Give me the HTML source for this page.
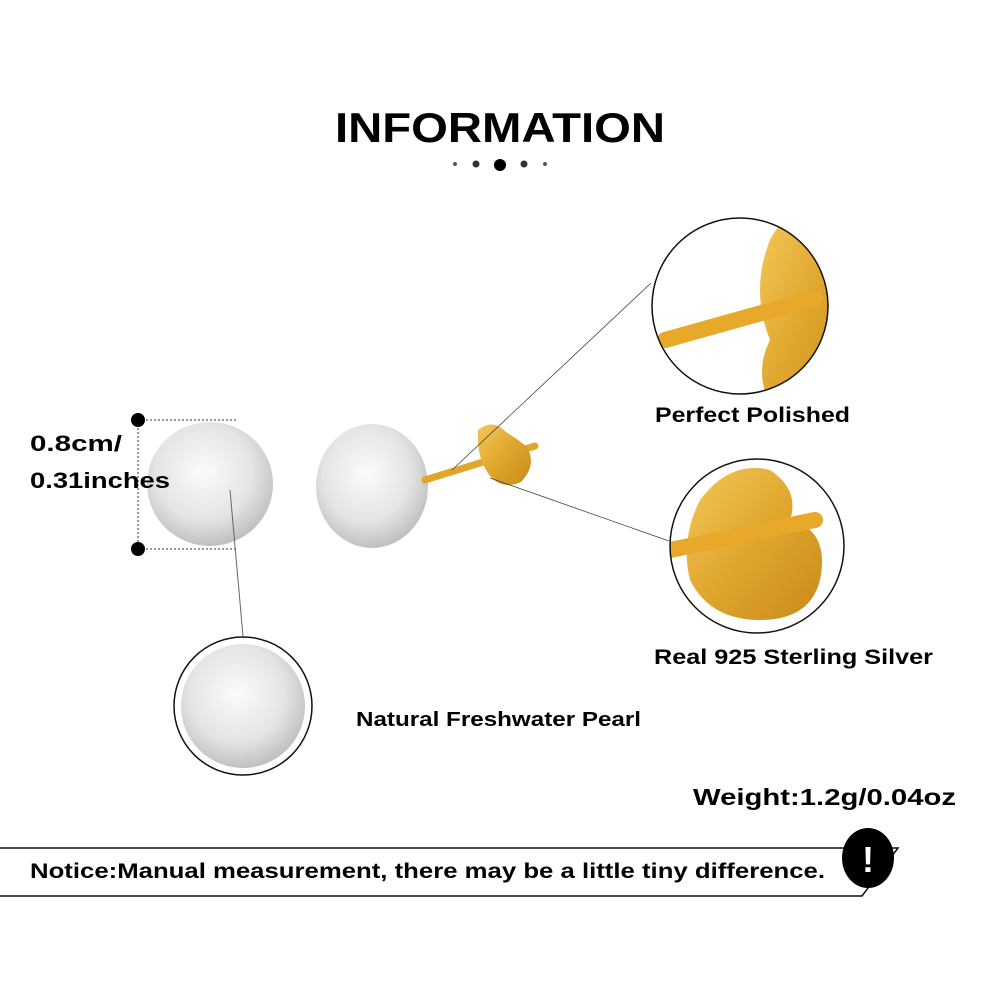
<!DOCTYPE html>
<html><head><style>body{margin:0;background:#fff}svg{display:block}</style></head><body>
<svg width="1000" height="1000" viewBox="0 0 1000 1000" xmlns="http://www.w3.org/2000/svg" font-family="Liberation Sans, sans-serif">
<defs>
<radialGradient id="pg" cx="0.45" cy="0.4" r="0.65"><stop offset="0" stop-color="#fbfbfb"/><stop offset="0.6" stop-color="#e4e4e4"/><stop offset="1" stop-color="#b8b8b8"/></radialGradient>
<linearGradient id="gd" x1="0" y1="0" x2="1" y2="1"><stop offset="0" stop-color="#f2c85a"/><stop offset="0.5" stop-color="#e0a62c"/><stop offset="1" stop-color="#c88a1a"/></linearGradient>
<clipPath id="c1"><circle cx="740" cy="306" r="88"/></clipPath>
<clipPath id="c2"><circle cx="757" cy="546" r="87"/></clipPath>
</defs>
<text x="335" y="142" textLength="330" lengthAdjust="spacingAndGlyphs" font-size="42" font-weight="bold">INFORMATION</text>
<circle cx="455" cy="164" r="2" fill="#555"/><circle cx="476" cy="164" r="3.5" fill="#333"/><circle cx="500" cy="165" r="6" fill="#000"/><circle cx="524" cy="164" r="3.5" fill="#333"/><circle cx="545" cy="164" r="2" fill="#555"/>
<line x1="138" y1="420" x2="236" y2="420" stroke="#333" stroke-dasharray="2,2"/>
<line x1="138" y1="549" x2="236" y2="549" stroke="#333" stroke-dasharray="2,2"/>
<line x1="138" y1="420" x2="138" y2="549" stroke="#333" stroke-dasharray="2,2"/>
<circle cx="138" cy="420" r="7"/><circle cx="138" cy="549" r="7"/>
<ellipse cx="210" cy="484" rx="63" ry="62" fill="url(#pg)"/>
<text x="30" y="451" textLength="92" lengthAdjust="spacingAndGlyphs" font-size="22" font-weight="bold">0.8cm/</text>
<text x="30" y="488" textLength="140" lengthAdjust="spacingAndGlyphs" font-size="22" font-weight="bold">0.31inches</text>
<line x1="230" y1="490" x2="243" y2="636" stroke="#666" stroke-width="1"/>
<ellipse cx="372" cy="486" rx="56" ry="62" fill="url(#pg)"/>
<line x1="425" y1="480" x2="535" y2="446" stroke="#e0a62c" stroke-width="7" stroke-linecap="round"/>
<path d="M478 430 q15 -12 28 2 q10 6 20 14 q12 18 -5 36 q-18 8 -30 -5 q-15 -18 -13 -47z" fill="url(#gd)"/>
<line x1="452" y1="470" x2="651" y2="283" stroke="#444" stroke-width="0.8"/>
<line x1="490" y1="478" x2="669" y2="541" stroke="#444" stroke-width="0.8"/>
<g clip-path="url(#c1)"><path d="M770 240 q15 -30 40 -20 l40 0 l0 200 l-70 0 q-30 -40 -10 -80 q-20 -50 0 -100z" fill="url(#gd)"/>
<line x1="665" y1="340" x2="815" y2="298" stroke="#e8a82a" stroke-width="16" stroke-linecap="round"/></g>
<circle cx="740" cy="306" r="88" fill="none" stroke="#111" stroke-width="1.5"/>
<text x="655" y="422" textLength="195" lengthAdjust="spacingAndGlyphs" font-size="21" font-weight="bold">Perfect  Polished</text>
<g clip-path="url(#c2)"><path d="M700 500 q30 -40 70 -30 q30 20 20 50 q40 10 30 60 q-10 40 -60 40 q-50 0 -70 -40 q-10 -40 10 -80z" fill="url(#gd)"/>
<line x1="670" y1="550" x2="815" y2="520" stroke="#e8a82a" stroke-width="16" stroke-linecap="round"/></g>
<circle cx="757" cy="546" r="87" fill="none" stroke="#111" stroke-width="1.5"/>
<text x="654" y="664" textLength="279" lengthAdjust="spacingAndGlyphs" font-size="21" font-weight="bold">Real 925  Sterling  Silver</text>
<circle cx="243" cy="706" r="69" fill="#fff" stroke="#111" stroke-width="1.5"/>
<circle cx="243" cy="706" r="62" fill="url(#pg)"/>
<text x="356" y="726" textLength="285" lengthAdjust="spacingAndGlyphs" font-size="20" font-weight="bold">Natural Freshwater Pearl</text>
<text x="693" y="805" textLength="263" lengthAdjust="spacingAndGlyphs" font-size="23" font-weight="bold">Weight:1.2g/0.04oz</text>
<path d="M0 848 L898 848 L862 896 L0 896" fill="none" stroke="#111" stroke-width="1.5"/>
<text x="30" y="878" textLength="795" lengthAdjust="spacingAndGlyphs" font-size="21" font-weight="bold">Notice:Manual measurement, there may be a little tiny difference.</text>
<ellipse cx="868" cy="858" rx="26" ry="30" fill="#000"/>
<text x="868" y="872" text-anchor="middle" font-size="36" font-weight="bold" fill="#fff">!</text>
</svg>
</body></html>
